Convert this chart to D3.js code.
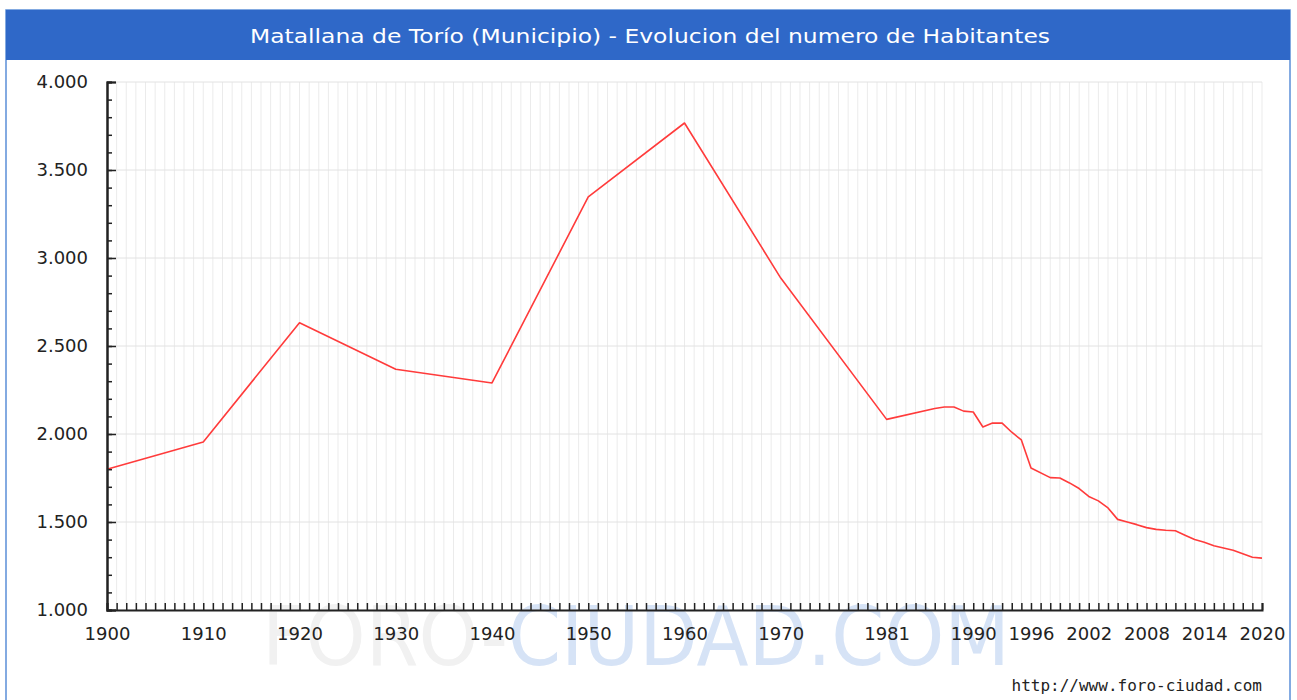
<!DOCTYPE html>
<html>
<head>
<meta charset="utf-8">
<script src="https://cdn.jsdelivr.net/npm/d3@7"></script>
<style>
  html, body { margin: 0; padding: 0; background: #fff; }
  svg { display: block; }
</style>
</head>
<body>
<svg id="chart" width="1297" height="700"></svg>
<script>
// ---- data ----
const titleText = "Matallana de Torío (Municipio) - Evolucion del numero de Habitantes";
const years = [1900, 1910, 1920, 1930, 1940, 1950, 1960, 1970, 1981,
  1986, 1987, 1988, 1989, 1990, 1991, 1992, 1993, 1994, 1995, 1996,
  1998, 1999, 2000, 2001, 2002, 2003, 2004, 2005, 2006, 2007, 2008,
  2009, 2010, 2011, 2012, 2013, 2014, 2015, 2016, 2017, 2018, 2019, 2020];
const habitantes = [1800, 1955, 2632, 2368, 2290, 3347, 3767, 2886, 2083,
  2145, 2153, 2153, 2130, 2125, 2040, 2062, 2062, 2010, 1966, 1807,
  1752, 1750, 1722, 1690, 1645, 1620, 1580, 1515, 1500, 1485, 1468,
  1458, 1453, 1450, 1425, 1400, 1385, 1365, 1352, 1340, 1320, 1300, 1295];
const xLabelYears = [1900, 1910, 1920, 1930, 1940, 1950, 1960, 1970, 1981, 1990, 1996, 2002, 2008, 2014, 2020];
const yMajorTicks = [1000, 1500, 2000, 2500, 3000, 3500, 4000];
const footerText = "http://www.foro-ciudad.com";

(function () {
// ---- layout ----
const svg = d3.select("#chart");
const pLeft = 107, pRight = 1262, pTop = 82, pBottom = 610;

const x = d3.scaleLinear().domain([1900, 2020]).range([pLeft, pRight]);
const y = d3.scaleLinear().domain([1000, 4000]).range([pBottom, pTop]);

const loc = d3.formatLocale({decimal: ",", thousands: ".", grouping: [3], currency: ["", ""]});
const fmt = loc.format(",");

// frame
svg.append("rect").attr("x", 6).attr("y", 10).attr("width", 1284).attr("height", 700)
  .attr("fill", "#fff").attr("stroke", "#5b8fd8").attr("stroke-width", 1.5);

// watermark
const wm = svg.append("text").attr("x", 262).attr("y", 665)
  .attr("font-family", "DejaVu Sans, sans-serif").attr("font-size", 82)
  .attr("textLength", 748).attr("lengthAdjust", "spacingAndGlyphs");
wm.append("tspan").attr("fill", "#f1f1f1").text("FORO-");
wm.append("tspan").attr("fill", "#d6e3f6").text("CIUDAD.COM");

// title bar
svg.append("rect").attr("x", 6).attr("y", 10).attr("width", 1284).attr("height", 50)
  .attr("fill", "#2f68c8");
svg.append("text").attr("x", 650).attr("y", 43).attr("text-anchor", "middle")
  .attr("fill", "#ffffff").attr("font-family", "DejaVu Sans, sans-serif")
  .attr("font-size", 20).attr("textLength", 800).attr("lengthAdjust", "spacingAndGlyphs")
  .text(titleText);

// grid
const allYears = d3.range(1900, 2021);
svg.append("g").selectAll("line").data(allYears).join("line")
  .attr("x1", d => x(d)).attr("x2", d => x(d)).attr("y1", pTop).attr("y2", pBottom)
  .attr("stroke", "#ebebeb").attr("stroke-width", 1);
svg.append("g").selectAll("line").data(yMajorTicks).join("line")
  .attr("x1", pLeft).attr("x2", pRight).attr("y1", d => y(d)).attr("y2", d => y(d))
  .attr("stroke", "#e2e2e2").attr("stroke-width", 1);

// line
const line = d3.line().x((d, i) => x(years[i])).y(d => y(d));
svg.append("path").datum(habitantes).attr("d", line)
  .attr("fill", "none").attr("stroke", "#ff3b3b").attr("stroke-width", 1.6)
  .attr("stroke-linejoin", "round");

// axes
const axisFont = "DejaVu Sans, Verdana, sans-serif";
const yMinor = d3.axisLeft(y).tickValues(d3.range(1000, 4001, 100)).tickSize(-5).tickFormat("");
const yMajor = d3.axisLeft(y).tickValues(yMajorTicks).tickSize(-9).tickPadding(19).tickFormat(fmt);
const gyMinor = svg.append("g").attr("transform", `translate(${pLeft},0)`).call(yMinor);
const gy = svg.append("g").attr("transform", `translate(${pLeft},0)`).call(yMajor);

const xAxis = d3.axisBottom(x).tickValues(allYears).tickSize(-7).tickPadding(17)
  .tickFormat(d => xLabelYears.includes(d) ? String(d) : "");
const gx = svg.append("g").attr("transform", `translate(0,${pBottom})`).call(xAxis);

[gyMinor, gy, gx].forEach(g => {
  g.selectAll(".domain").attr("stroke", "#222").attr("stroke-width", 2);
  g.selectAll(".tick line").attr("stroke", "#222").attr("stroke-width", 1.5);
  g.selectAll("text").attr("fill", "#222").attr("font-family", axisFont).attr("font-size", 18);
});

// footer
svg.append("text").attr("x", 1262).attr("y", 691).attr("text-anchor", "end")
  .attr("fill", "#222").attr("font-family", "DejaVu Sans Mono, monospace")
  .attr("font-size", 16).text(footerText);
})();
</script>
</body>
</html>
